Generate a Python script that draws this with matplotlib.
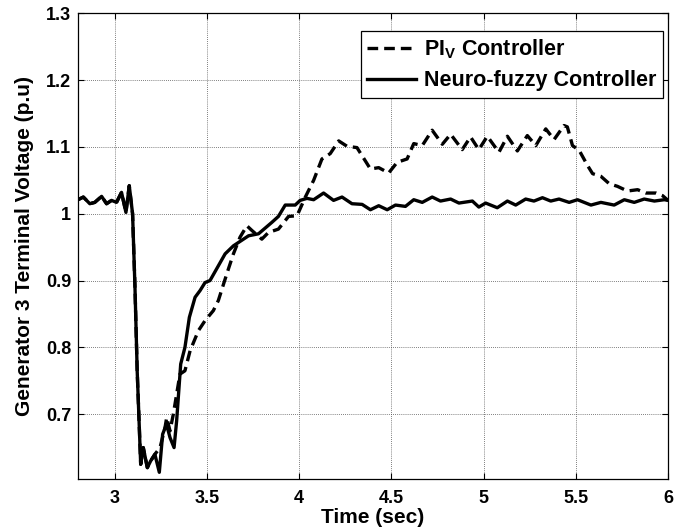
import matplotlib
matplotlib.use("Agg")
import matplotlib.pyplot as plt

plt.rcParams['font.family'] = ['Liberation Sans', 'DejaVu Sans']
plt.rcParams['font.weight'] = 'bold'
plt.rcParams['mathtext.fontset'] = 'custom'
plt.rcParams['mathtext.rm'] = 'Liberation Sans:bold'
plt.rcParams['mathtext.bf'] = 'Liberation Sans:bold'
plt.rcParams['mathtext.default'] = 'bf'

# Neuro-fuzzy controller (solid)
t_nf = [2.800, 2.829, 2.864, 2.891, 2.928, 2.955, 2.982, 3.009, 3.036, 3.060,
        3.078, 3.096, 3.109, 3.121, 3.140, 3.154, 3.176, 3.194, 3.217, 3.241,
        3.259, 3.280, 3.299, 3.321, 3.335, 3.357, 3.380, 3.404, 3.435, 3.462,
        3.489, 3.516, 3.598, 3.643, 3.725, 3.779, 3.851, 3.887, 3.924, 3.978,
        4.005, 4.042, 4.078, 4.132, 4.186, 4.232, 4.286, 4.341, 4.386, 4.431,
        4.477, 4.522, 4.576, 4.621, 4.667, 4.721, 4.766, 4.821, 4.866, 4.939,
        4.974, 5.011, 5.074, 5.129, 5.174, 5.228, 5.273, 5.319, 5.364, 5.409,
        5.464, 5.509, 5.582, 5.636, 5.708, 5.763, 5.817, 5.871, 5.926, 5.980,
        6.000]
v_nf = [1.021, 1.025, 1.015, 1.017, 1.026, 1.015, 1.020, 1.017, 1.032, 1.002,
        1.042, 1.000, 0.890, 0.765, 0.625, 0.650, 0.620, 0.630, 0.640, 0.613,
        0.670, 0.685, 0.665, 0.650, 0.690, 0.775, 0.800, 0.845, 0.875, 0.885,
        0.897, 0.900, 0.940, 0.952, 0.967, 0.970, 0.987, 0.996, 1.013, 1.013,
        1.020, 1.023, 1.021, 1.031, 1.020, 1.025, 1.015, 1.014, 1.006, 1.012,
        1.006, 1.013, 1.011, 1.021, 1.017, 1.025, 1.019, 1.022, 1.016, 1.019,
        1.010, 1.016, 1.009, 1.019, 1.013, 1.022, 1.019, 1.024, 1.019, 1.022,
        1.017, 1.021, 1.013, 1.017, 1.013, 1.021, 1.017, 1.022, 1.019, 1.021,
        1.020]

# PI_V controller (dashed)
t_pi = [2.800, 2.829, 2.864, 2.891, 2.928, 2.955, 2.982, 3.009, 3.036, 3.060,
        3.078, 3.096, 3.109, 3.121, 3.140, 3.154, 3.176, 3.194, 3.217, 3.245,
        3.272, 3.281, 3.299, 3.317, 3.353, 3.380, 3.408, 3.453, 3.489, 3.534,
        3.561, 3.607, 3.643, 3.679, 3.716, 3.743, 3.797, 3.833, 3.887, 3.942,
        3.988, 4.033, 4.078, 4.123, 4.168, 4.214, 4.259, 4.313, 4.386, 4.431,
        4.485, 4.531, 4.585, 4.621, 4.667, 4.721, 4.776, 4.821, 4.884, 4.929,
        4.974, 5.020, 5.083, 5.129, 5.183, 5.237, 5.283, 5.337, 5.382, 5.436,
        5.454, 5.482, 5.518, 5.564, 5.591, 5.636, 5.681, 5.726, 5.780, 5.835,
        5.880, 5.935, 5.971, 6.000]
v_pi = [1.021, 1.025, 1.015, 1.017, 1.026, 1.015, 1.020, 1.017, 1.032, 1.002,
        1.042, 1.000, 0.890, 0.765, 0.625, 0.650, 0.620, 0.630, 0.640, 0.650,
        0.680, 0.695, 0.675, 0.700, 0.760, 0.765, 0.795, 0.825, 0.840, 0.855,
        0.870, 0.910, 0.940, 0.965, 0.982, 0.975, 0.962, 0.972, 0.977, 0.996,
        0.997, 1.025, 1.050, 1.082, 1.090, 1.109, 1.101, 1.099, 1.067, 1.069,
        1.061, 1.077, 1.082, 1.105, 1.102, 1.125, 1.104, 1.119, 1.096, 1.115,
        1.096, 1.116, 1.092, 1.116, 1.094, 1.117, 1.102, 1.127, 1.111, 1.132,
        1.130, 1.102, 1.095, 1.072, 1.060, 1.056, 1.045, 1.041, 1.034, 1.036,
        1.031, 1.031, 1.027, 1.020]

x_ticks = [3, 3.5, 4, 4.5, 5, 5.5, 6]
x_tick_labels = ['3', '3.5', '4', '4.5', '5', '5.5', '6']
y_ticks = [0.7, 0.8, 0.9, 1.0, 1.1, 1.2, 1.3]
y_tick_labels = ['0.7', '0.8', '0.9', '1', '1.1', '1.2', '1.3']

fig = plt.figure(figsize=(6.87, 5.31), dpi=100)
ax = fig.add_axes([78/687, 1-479/531, (668-78)/687, (479-13.3)/531])

ax.plot(t_pi, v_pi, color='black', lw=2.4, linestyle=(0, (3.2, 1.8)),
        label=r'PI$_{V}$ Controller')
ax.plot(t_nf, v_nf, color='black', lw=2.4, label='Neuro-fuzzy Controller')

ax.set_xlim(2.8, 6)
ax.set_ylim(0.603, 1.3)
ax.set_xticks(x_ticks)
ax.set_xticklabels(x_tick_labels)
ax.set_yticks(y_ticks)
ax.set_yticklabels(y_tick_labels)
ax.tick_params(direction='in', top=True, right=True, labelsize=13, length=4,
               width=0.8)
ax.tick_params(axis='x', pad=8)
ax.tick_params(axis='y', pad=5)
for lab in ax.get_xticklabels() + ax.get_yticklabels():
    lab.set_fontweight('bold')
ax.grid(True, linestyle=(0, (1, 1.5)), color='#555555', lw=0.6)
for s in ax.spines.values():
    s.set_linewidth(0.9)

ax.set_xlabel('Time (sec)', fontsize=15, fontweight='bold')
ax.set_ylabel('Generator 3 Terminal Voltage (p.u)', fontsize=15,
              fontweight='bold')
ax.xaxis.set_label_coords(0.5, -0.062)
ax.yaxis.set_label_coords(-0.074, 0.5)

leg = ax.legend(loc='upper right', fontsize=15.5, frameon=True, fancybox=False,
                edgecolor='black', framealpha=1, handlelength=2.25,
                borderpad=0.3, labelspacing=0.42, handletextpad=0.4,
                borderaxespad=0, bbox_to_anchor=(0.9915, 0.962))
leg.get_frame().set_linewidth(0.9)
for txt in leg.get_texts():
    txt.set_fontweight('bold')

fig.savefig('out.png', dpi=100)
